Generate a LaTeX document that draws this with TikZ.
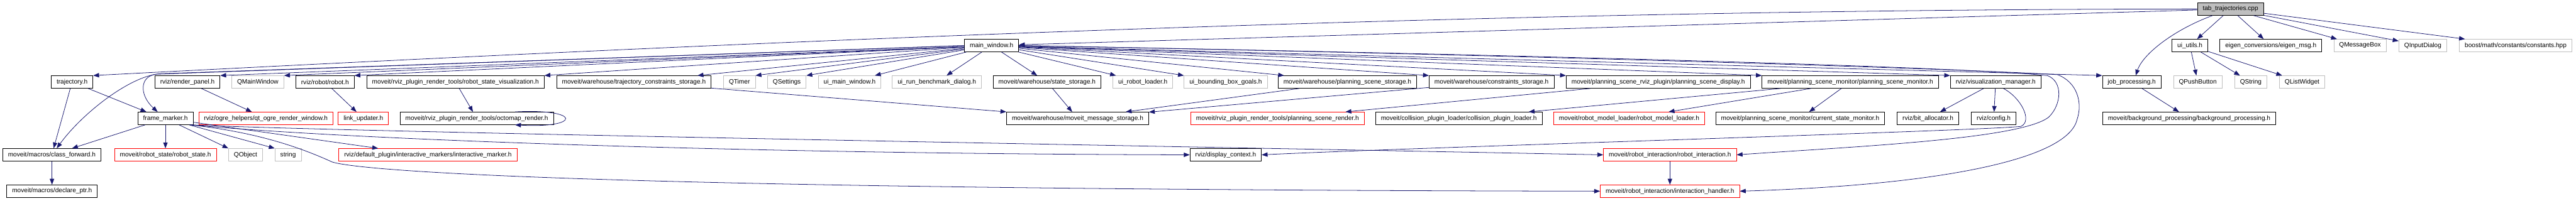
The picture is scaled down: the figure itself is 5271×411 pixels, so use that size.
\documentclass[tikz,border=0pt]{standalone}
\usepackage{fontspec}
\setmainfont{Liberation Sans}
\usepackage{tikz}
\usetikzlibrary{arrows.meta,calc}
\definecolor{dxEdge}{HTML}{191970}
\definecolor{dxGrey}{HTML}{BFBFBF}
\definecolor{dxRed}{HTML}{FF0000}

\begin{document}
\begin{tikzpicture}[x=1pt,y=-1pt,font=\fontsize{13}{15}\selectfont,
  hf/.style={draw=black,fill=white,line width=1pt,minimum height=25.6pt,
             inner xsep=11pt,inner ysep=0pt},
  hx/.style={hf,draw=dxGrey},
  hr/.style={hf,draw=dxRed},
  hroot/.style={hf,fill=dxGrey},
  a/.style={-{Triangle[length=12pt,width=9pt]},dxEdge,line width=1pt}]
\useasboundingbox (0,0) rectangle (5271,411);
% rows 0 and 1
\node[hroot] (tab) at (4564,18.5) {tab\_trajectories.cpp};
\node[hf] (mw) at (2029,93.3) {main\_window.h};
\node[hf] (uiutils) at (4481,93.3) {ui\_utils.h};
\node[hf] (eigen) at (4646.5,93.3) {eigen\_conversions/eigen\_msg.h};
\node[hx] (qmsg) at (4829,93.3) {QMessageBox};
\node[hx] (qinput) at (4957.5,93.3) {QInputDialog};
\node[hx] (boost) at (5147.5,93.3) {boost/math/constants/constants.hpp};
% row 2
\node[hf] (traj) at (147.5,168) {trajectory.h};
\node[hf] (rpanel) at (383.5,168) {rviz/render\_panel.h};
\node[hx] (qmain) at (527.5,168) {QMainWindow};
\node[hf] (robot) at (665,168) {rviz/robot/robot.h};
\node[hf] (rsv) at (932,168) {moveit/rviz\_plugin\_render\_tools/robot\_state\_visualization.h};
\node[hf] (tcs) at (1297,168) {moveit/warehouse/trajectory\_constraints\_storage.h};
\node[hx] (qtimer) at (1513,168) {QTimer};
\node[hx] (qset) at (1610,168) {QSettings};
\node[hx] (uimain) at (1738.5,168) {ui\_main\_window.h};
\node[hx] (uibench) at (1917,168) {ui\_run\_benchmark\_dialog.h};
\node[hf] (sstore) at (2142.5,168) {moveit/warehouse/state\_storage.h};
\node[hx] (uiloader) at (2338.5,168) {ui\_robot\_loader.h};
\node[hx] (uibbox) at (2508,168) {ui\_bounding\_box\_goals.h};
\node[hf] (psstore) at (2757,168) {moveit/warehouse/planning\_scene\_storage.h};
\node[hf] (cstore) at (3052,168) {moveit/warehouse/constraints\_storage.h};
\node[hf] (psdisp) at (3393,168) {moveit/planning\_scene\_rviz\_plugin/planning\_scene\_display.h};
\node[hf] (psmon) at (3786,168) {moveit/planning\_scene\_monitor/planning\_scene\_monitor.h};
\node[hf] (vizman) at (4083.5,168) {rviz/visualization\_manager.h};
\node[hf] (job) at (4362,168) {job\_processing.h};
\node[hx] (qpush) at (4497,168) {QPushButton};
\node[hx] (qstring) at (4605.5,168) {QString};
\node[hx] (qlist) at (4710.5,168) {QListWidget};
% row 3
\node[hf] (fmark) at (338.5,242.5) {frame\_marker.h};
\node[hr] (ogre) at (544,242.5) {rviz/ogre\_helpers/qt\_ogre\_render\_window.h};
\node[hr] (link) at (743.5,242.5) {link\_updater.h};
\node[hf] (octo) at (975.5,242.5) {moveit/rviz\_plugin\_render\_tools/octomap\_render.h};
\node[hf] (msgstore) at (2205,242.5) {moveit/warehouse/moveit\_message\_storage.h};
\node[hr] (psrender) at (2614,242.5) {moveit/rviz\_plugin\_render\_tools/planning\_scene\_render.h};
\node[hf] (collision) at (2985,242.5) {moveit/collision\_plugin\_loader/collision\_plugin\_loader.h};
\node[hr] (rml) at (3333.5,242.5) {moveit/robot\_model\_loader/robot\_model\_loader.h};
\node[hf] (csm) at (3683.5,242.5) {moveit/planning\_scene\_monitor/current\_state\_monitor.h};
\node[hf] (bitalloc) at (3945,242.5) {rviz/bit\_allocator.h};
\node[hf] (config) at (4079.5,242.5) {rviz/config.h};
\node[hf] (bgproc) at (4479.5,242.5) {moveit/background\_processing/background\_processing.h};
% rows 4 and 5
\node[hf] (classfwd) at (106,317.2) {moveit/macros/class\_forward.h};
\node[hr] (rstate) at (338.5,317.2) {moveit/robot\_state/robot\_state.h};
\node[hx] (qobject) at (502.5,317.2) {QObject};
\node[hx] (string) at (589.5,317.2) {string};
\node[hr] (imarker) at (875.5,317.2) {rviz/default\_plugin/interactive\_markers/interactive\_marker.h};
\node[hf] (dctx) at (2508,317.2) {rviz/display\_context.h};
\node[hr] (rinter) at (3417,317.2) {moveit/robot\_interaction/robot\_interaction.h};
\node[hf] (declptr) at (106.5,391.7) {moveit/macros/declare\_ptr.h};
\node[hr] (ihandler) at (3417,391.7) {moveit/robot\_interaction/interaction\_handler.h};

% tab_trajectories.cpp
\draw[a] (tab) -- (mw);
\draw[a] (tab.west) .. controls (3060,19) and (1630,80) .. (traj.north east);
\draw[a] (tab.200) .. controls (4450,60) and (4385,110) .. ($(job.north)+(8,0)$);
\draw[a] (tab) -- (uiutils);
\draw[a] (tab) -- (eigen);
\draw[a] (tab) -- (qmsg);
\draw[a] (tab) -- (qinput);
\draw[a] (tab) -- (boost);
% main_window.h
\draw[a] (mw.west) -- (330,151) .. controls (270,153) and (170,230) .. ($(classfwd.north)+(10,0)$);
\draw[a] (mw.west) -- (320,152) .. controls (285,156) and (285,195) .. ($(fmark.north)+(-16,0)$);
\draw[a] (mw) -- (rpanel.north east);
\draw[a] (mw) -- (qmain.north east);
\draw[a] (mw) -- (robot.north east);
\draw[a] (mw) -- (rsv.north east);
\draw[a] (mw) -- (tcs);
\draw[a] (mw) -- (qtimer.north east);
\draw[a] (mw) -- (qset.north east);
\draw[a] (mw) -- (uimain);
\draw[a] (mw) -- (uibench);
\draw[a] (mw) -- (sstore);
\draw[a] (mw) -- (uiloader);
\draw[a] (mw) -- (uibbox);
\draw[a] (mw) -- (psstore);
\draw[a] (mw) -- (cstore.north west);
\draw[a] (mw) -- (psdisp.north west);
\draw[a] (mw) -- (psmon.north west);
\draw[a] (mw) -- (vizman.north west);
\draw[a] (mw) -- (job.north west);
\draw[a] (mw.east) .. controls (3000,110) and (4000,135) .. (4190,155)
  .. controls (4222,168) and (4218,215) .. (4192,240)
  .. controls (4135,285) and (3800,300) .. (rinter.east);
\draw[a] (mw.east) .. controls (3000,110) and (4000,140) .. (4210,153)
  .. controls (4250,168) and (4262,210) .. (4250,245)
  .. controls (4230,330) and (3950,380) .. (ihandler.east);
% frame_marker.h
\draw[a] (fmark) -- (classfwd);
\draw[a] (fmark) -- (rstate);
\draw[a] (fmark) -- (qobject.north west);
\draw[a] (fmark) -- (string.north west);
\draw[a] (fmark) -- ($(imarker.north west)+(81,0)$);
\draw[a] ($(fmark.south east)+(-5,0)$) .. controls (700,285) and (1500,315) .. (dctx.west);
\draw[a] ($(fmark.south east)+(-5,0)$) .. controls (700,270) and (2200,296) .. (rinter.west);
\draw[a] ($(fmark.south east)+(-7,0)$) .. controls (520,270) and (610,300) .. (680,332)
  .. controls (740,350) and (1200,388) .. (ihandler.west);
% the rest
\draw[a] (traj) -- (classfwd);
\draw[a] (traj) -- ($(fmark.north west)+(18,0)$);
\draw[a] (classfwd) -- (declptr);
\draw[a] (rpanel) -- (ogre);
\draw[a] (robot) -- (link);
\draw[a] (rsv) -- (octo);
\draw[a] ($(octo.north east)+(-79,0)$) .. controls (1190,222) and (1190,263) .. ($(octo.south east)+(-79,0)$);
\draw[a] (tcs) -- (msgstore.north west);
\draw[a] (sstore) -- (msgstore);
\draw[a] (psstore) -- (msgstore);
\draw[a] (cstore) -- (msgstore);
\draw[a] (psdisp) -- (psrender);
\draw[a] (psmon) -- (collision);
\draw[a] (psmon) -- (rml);
\draw[a] (psmon) -- (csm);
\draw[a] (vizman) -- (bitalloc);
\draw[a] (vizman) -- (config);
\draw[a] ($(vizman.south)+(16,0)$) .. controls (4135,200) and (4160,248) .. (4135,259)
  .. controls (4050,268) and (2900,302) .. (dctx.east);
\draw[a] (job) -- (bgproc);
\draw[a] (uiutils) -- (qpush);
\draw[a] (uiutils) -- (qstring);
\draw[a] (uiutils) -- (qlist);
\draw[a] (rinter) -- (ihandler);
\end{tikzpicture}
\end{document}
